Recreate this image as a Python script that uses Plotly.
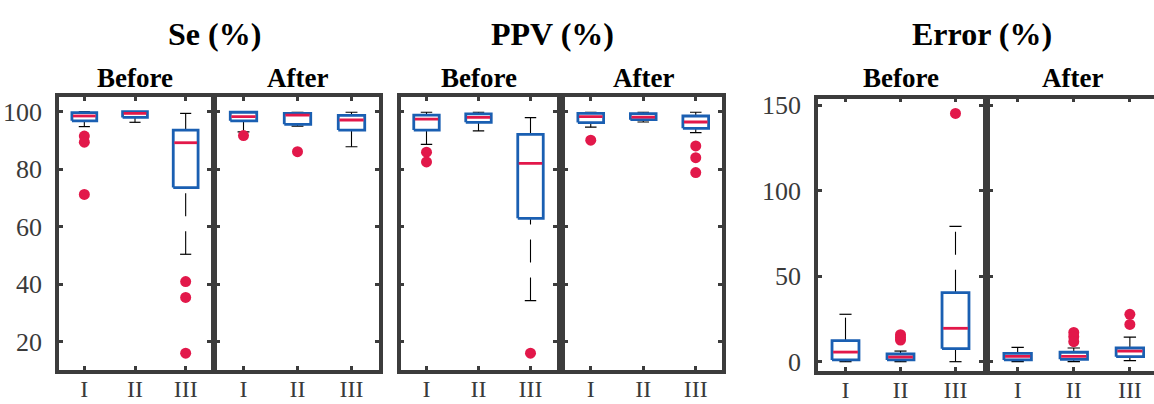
import plotly.graph_objects as go

# ---------------- data ----------------
groups = ["I", "II", "III"]

# Se (%) - Before
se_before_lo = [94.8, 96.3, 50.4]
se_before_q1 = [96.8, 98.0, 73.6]
se_before_med = [98.5, 99.4, 89.2]
se_before_q3 = [99.7, 100.0, 93.6]
se_before_hi = [100.0, 100.0, 99.4]
se_before_out_g = ["I", "I", "I", "III", "III", "III"]
se_before_out_v = [91.5, 89.4, 71.2, 40.9, 35.4, 16.0]

# Se (%) - After
se_after_lo = [93.0, 95.0, 87.8]
se_after_q1 = [96.8, 95.6, 93.6]
se_after_med = [98.3, 98.8, 97.1]
se_after_q3 = [99.8, 99.4, 98.7]
se_after_hi = [100.0, 99.8, 99.8]
se_after_out_g = ["I", "II"]
se_after_out_v = [91.7, 86.1]

# PPV (%) - Before
ppv_before_lo = [88.6, 93.3, 34.3]
ppv_before_q1 = [93.6, 96.3, 62.9]
ppv_before_med = [97.4, 98.0, 82.0]
ppv_before_q3 = [98.8, 99.2, 92.1]
ppv_before_hi = [99.8, 99.8, 97.9]
ppv_before_out_g = ["I", "I", "III"]
ppv_before_out_v = [85.9, 82.5, 16.0]

# PPV (%) - After
ppv_after_lo = [94.6, 96.4, 92.7]
ppv_after_q1 = [96.2, 97.2, 94.2]
ppv_after_med = [98.3, 98.1, 96.4]
ppv_after_q3 = [99.4, 99.3, 98.5]
ppv_after_hi = [99.8, 99.8, 99.8]
ppv_after_out_g = ["I", "III", "III", "III"]
ppv_after_out_v = [90.1, 88.1, 84.0, 78.8]

# Error (%) - Before
err_before_lo = [0.0, 0.0, 0.0]
err_before_q1 = [1.0, 1.0, 7.6]
err_before_med = [5.6, 2.7, 19.5]
err_before_q3 = [12.3, 4.5, 40.3]
err_before_hi = [27.7, 6.2, 79.1]
err_before_out_g = ["II", "II", "II", "III"]
err_before_out_v = [15.8, 14.2, 12.6, 145.1]

# Error (%) - After
err_after_lo = [0.0, 0.0, 0.6]
err_after_q1 = [1.0, 1.4, 2.9]
err_after_med = [3.1, 3.1, 6.2]
err_after_q3 = [4.9, 5.5, 8.0]
err_after_hi = [8.4, 8.0, 14.4]
err_after_out_g = ["II", "II", "II", "III", "III"]
err_after_out_v = [17.1, 14.6, 11.7, 27.7, 21.8]

metric_titles = ["Se (%)", "PPV (%)", "Error (%)"]
phase_titles = ["Before", "After"]
se_ticks = [20, 40, 60, 80, 100]
err_ticks = [0, 50, 100, 150]

# ---------------- style ----------------
W, H = 1154, 404
BOX = "#1a5fb2"
MED = "#e2184a"
FRAME = "#3c3c3c"
FONT = "Liberation Serif"
HALF_W = 0.245
HALF_CAP = 0.11

panels = [
    ((se_before_lo, se_before_q1, se_before_med, se_before_q3, se_before_hi, se_before_out_g, se_before_out_v),
     (59, 211), (97, 370), (10.15, 105.1), se_ticks, True, 3.5, "allticks"),
    ((se_after_lo, se_after_q1, se_after_med, se_after_q3, se_after_hi, se_after_out_g, se_after_out_v),
     (216.5, 378.5), (97, 370), (10.15, 105.1), se_ticks, False, 3.5, "allticks"),
    ((ppv_before_lo, ppv_before_q1, ppv_before_med, ppv_before_q3, ppv_before_hi, ppv_before_out_g, ppv_before_out_v),
     (400.5, 556.5), (97, 370), (10.15, 105.1), se_ticks, False, 3.5, "allticks"),
    ((ppv_after_lo, ppv_after_q1, ppv_after_med, ppv_after_q3, ppv_after_hi, ppv_after_out_g, ppv_after_out_v),
     (564.5, 722), (97, 370), (10.15, 105.1), se_ticks, False, 3.5, "allticks"),
    ((err_before_lo, err_before_q1, err_before_med, err_before_q3, err_before_hi, err_before_out_g, err_before_out_v),
     (818, 983), (98.7, 371), (-5.45, 153.7), err_ticks, True, 3.5, "allticks"),
    ((err_after_lo, err_after_q1, err_after_med, err_after_q3, err_after_hi, err_after_out_g, err_after_out_v),
     (989.6, 1154), (98.7, 371), (-5.45, 153.7), err_ticks, False, 3.43, False),
]

fig = go.Figure()
layout = dict(
    template="none",
    width=W, height=H, autosize=False,
    margin=dict(l=0, r=0, t=0, b=0, pad=0),
    paper_bgcolor="white", plot_bgcolor="white",
    showlegend=False,
)

def px_x(p):
    return p / W

def px_y(p):
    return 1 - p / H

for k, (stats, xd, yd, yr, yt, showy, xr, mir) in enumerate(panels):
    n = "" if k == 0 else str(k + 1)
    xa, ya = "x" + n, "y" + n
    lo, q1, med, q3, hi, og, ov = stats
    for i in range(len(groups)):
        c = i + 1
        for seg in ([lo[i], q1[i]], [q3[i], hi[i]]):
            fig.add_trace(go.Scatter(x=[c, c], y=seg, mode="lines", xaxis=xa, yaxis=ya,
                                     line=dict(color="black", width=1.1, dash="23px,15px"),
                                     hoverinfo="skip"))
        for v in (lo[i], hi[i]):
            fig.add_trace(go.Scatter(x=[c - HALF_CAP, c + HALF_CAP], y=[v, v], mode="lines",
                                     xaxis=xa, yaxis=ya, line=dict(color="black", width=1.2),
                                     hoverinfo="skip"))
    for i in range(len(groups)):
        c = i + 1
        fig.add_trace(go.Scatter(
            x=[c - HALF_W, c + HALF_W, c + HALF_W, c - HALF_W, c - HALF_W],
            y=[q1[i], q1[i], q3[i], q3[i], q1[i]],
            mode="lines", xaxis=xa, yaxis=ya,
            line=dict(color=BOX, width=2.8), hoverinfo="skip"))
        fig.add_trace(go.Scatter(
            x=[c - HALF_W + 0.02, c + HALF_W - 0.02], y=[med[i], med[i]],
            mode="lines", xaxis=xa, yaxis=ya,
            line=dict(color=MED, width=2.8), hoverinfo="skip"))
    fig.add_trace(go.Scatter(
        x=[groups.index(g) + 1 for g in og], y=ov, mode="markers", xaxis=xa, yaxis=ya,
        marker=dict(color=MED, size=11, line=dict(width=0)), hoverinfo="skip"))

    common = dict(showline=True, linecolor=FRAME, linewidth=3.5, ticks="inside",
                  ticklen=4, tickwidth=2.5, tickcolor=FRAME, showgrid=False, zeroline=False,
                  automargin=False)
    layout["xaxis" + n] = dict(common, domain=[px_x(xd[0]), px_x(xd[1])], range=[0.5, xr],
                               tickmode="array", tickvals=[1, 2, 3], ticktext=groups,
                               anchor=ya, mirror="allticks", ticklabelstandoff=-6,
                               tickfont=dict(family=FONT, size=24, color="#3a3a3a"))
    layout["yaxis" + n] = dict(common, domain=[px_y(yd[1]), px_y(yd[0])], range=list(yr),
                               tickmode="array", tickvals=yt, showticklabels=showy,
                               anchor=xa, mirror=mir, ticklabelstandoff=8,
                               tickfont=dict(family=FONT, size=26, color="#3a3a3a"))

annotations = []
title_centers = [214, 552, 982]
for t, cx in zip(metric_titles, title_centers):
    annotations.append(dict(text="<b>" + t + "</b>", x=px_x(cx), y=px_y(34), xref="paper",
                            yref="paper", showarrow=False, xanchor="center", yanchor="middle",
                            font=dict(family=FONT, size=32, color="black")))
sub_centers = [135, 297.5, 478.5, 643, 900.5, 1072]
for j, cx in enumerate(sub_centers):
    annotations.append(dict(text="<b>" + phase_titles[j % 2] + "</b>", x=px_x(cx), y=px_y(78),
                            xref="paper", yref="paper", showarrow=False, xanchor="center",
                            yanchor="middle", font=dict(family=FONT, size=27, color="black")))
layout["annotations"] = annotations

fig.update_layout(**layout)
fig.write_html("out.html", config={"displayModeBar": False},
               post_script="document.body.style.margin='0';document.body.style.overflow='hidden';")
